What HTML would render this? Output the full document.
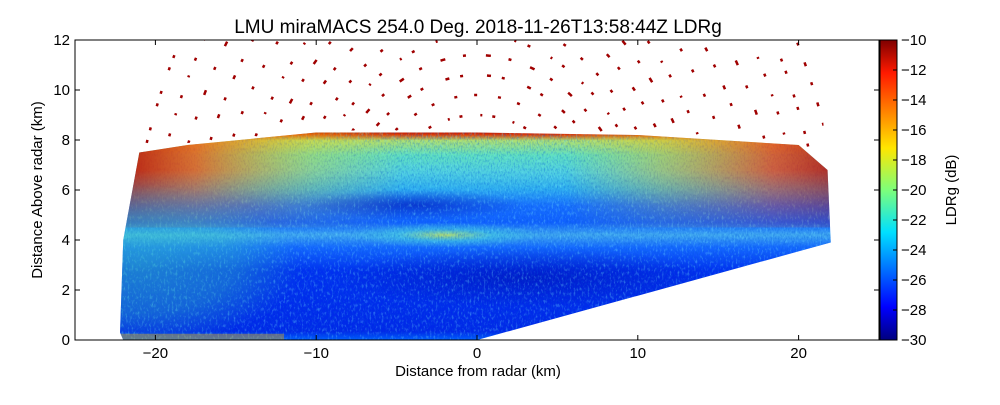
<!DOCTYPE html>
<html><head><meta charset="utf-8"><style>
body{margin:0;background:#fff;}
svg text{font-family:"Liberation Sans",sans-serif;}
</style></head><body>
<svg id="chart" width="1000" height="400" xmlns="http://www.w3.org/2000/svg">
<defs>
<linearGradient id="vg" x1="0" y1="1" x2="0" y2="0">
<stop offset="0" stop-color="#0060ff"/>
<stop offset="0.04" stop-color="#0028e8"/>
<stop offset="0.33" stop-color="#0030f0"/>
<stop offset="0.44" stop-color="#1468ff"/>
<stop offset="0.5" stop-color="#40a8f0"/>
<stop offset="0.56" stop-color="#1060ff"/>
<stop offset="0.64" stop-color="#1870ff"/>
<stop offset="0.72" stop-color="#30b0f0"/>
<stop offset="0.8" stop-color="#50d0e0"/>
<stop offset="0.88" stop-color="#60e0c0"/>
<stop offset="0.95" stop-color="#b0e070"/>
<stop offset="0.98" stop-color="#e03000"/>
<stop offset="1" stop-color="#900000"/>
</linearGradient>
<linearGradient id="edge" x1="0" y1="0" x2="1" y2="0">
<stop offset="0" stop-color="#b00000" stop-opacity="0.95"/>
<stop offset="0.12" stop-color="#ff5000" stop-opacity="0.75"/>
<stop offset="0.28" stop-color="#ffd000" stop-opacity="0.3"/>
<stop offset="0.4" stop-color="#ffd000" stop-opacity="0"/>
<stop offset="0.62" stop-color="#ffd000" stop-opacity="0"/>
<stop offset="0.75" stop-color="#ffb000" stop-opacity="0.4"/>
<stop offset="0.9" stop-color="#ff3000" stop-opacity="0.7"/>
<stop offset="1" stop-color="#b00000" stop-opacity="0.85"/>
</linearGradient>
<linearGradient id="edgefade" gradientUnits="userSpaceOnUse" x1="0" y1="240" x2="0" y2="170">
<stop offset="0" stop-color="#fff" stop-opacity="0"/>
<stop offset="1" stop-color="#fff" stop-opacity="1"/>
</linearGradient>
<mask id="edgemask"><rect x="0" y="0" width="1000" height="400" fill="url(#edgefade)"/></mask>
<radialGradient id="leftcy">
<stop offset="0" stop-color="#40e0b0" stop-opacity="0.45"/>
<stop offset="0.6" stop-color="#40e0b0" stop-opacity="0.3"/>
<stop offset="1" stop-color="#40e0b0" stop-opacity="0"/>
</radialGradient>
<radialGradient id="mid">
<stop offset="0" stop-color="#c0e060" stop-opacity="0.9"/>
<stop offset="0.5" stop-color="#40d0e0" stop-opacity="0.5"/>
<stop offset="1" stop-color="#40d0e0" stop-opacity="0"/>
</radialGradient>
<radialGradient id="dark">
<stop offset="0" stop-color="#0010b0" stop-opacity="0.6"/>
<stop offset="1" stop-color="#0010b0" stop-opacity="0"/>
</radialGradient>
<linearGradient id="cb" x1="0" y1="1" x2="0" y2="0">
<stop offset="0" stop-color="#00007f"/><stop offset="0.11" stop-color="#0000ff"/>
<stop offset="0.36" stop-color="#00e0ff"/><stop offset="0.5" stop-color="#7dff7a"/>
<stop offset="0.64" stop-color="#ffe600"/><stop offset="0.89" stop-color="#ff1a00"/>
<stop offset="1" stop-color="#7f0000"/>
</linearGradient>
<filter id="noise"><feTurbulence type="fractalNoise" baseFrequency="0.7 0.35" numOctaves="2" seed="3"/><feColorMatrix values="0 0 0 0 0  0 0 0 0 0.1  0 0 0 0 0.7  0 0 0 1.6 -0.7"/></filter>
<filter id="noise2"><feTurbulence type="fractalNoise" baseFrequency="0.5 0.25" numOctaves="2" seed="9"/><feColorMatrix values="0 0 0 0 0.2  0 0 0 0 0.9  0 0 0 0 1  0 0 0 1.8 -0.95"/></filter>
<clipPath id="region"><polygon id="regpoly"/></clipPath>
<clipPath id="above"><polygon id="abovepoly"/></clipPath>
<clipPath id="plotclip"><rect x="75" y="40" width="804" height="300"/></clipPath>
</defs>
<text x="478" y="33" font-size="19" text-anchor="middle">LMU miraMACS 254.0 Deg. 2018-11-26T13:58:44Z  LDRg</text>
<g id="plot" clip-path="url(#plotclip)"></g>
<rect x="75" y="40" width="804" height="300" fill="none" stroke="#000"/>
<g id="axes"></g>
<text x="478" y="376" font-size="15" text-anchor="middle">Distance from radar (km)</text>
<text transform="translate(42,190) rotate(-90)" font-size="15" text-anchor="middle">Distance Above radar  (km)</text>
<rect x="880" y="40" width="17" height="300" fill="url(#cb)" stroke="#000"/>
<g id="cbticks"></g>
<text transform="translate(956,190) rotate(-90)" font-size="15" text-anchor="middle">LDRg (dB)</text>
</svg>
<script>
const xTicks=[-20,-10,0,10,20];
const yTicks=[0,2,4,6,8,10,12];
const cbTicks=[-10,-12,-14,-16,-18,-20,-22,-24,-26,-28,-30];
const regionX=[-22.2,-22,0,22,21.8,20,10,0,-10,-18,-21,-22];
const regionY=[0.3,0,0,3.9,6.8,7.8,8.2,8.3,8.3,7.8,7.5,4];
const arcRadii=[9,9.8,10.6,11.4,12.2,13,14,15,16,17.2,18.4,19.6,20.8,22,23.2];
const NS="http://www.w3.org/2000/svg";
const X=v=>477+v*16.08, Y=v=>340-v*25, CY=v=>40+(-10-v)*15;
function mk(t,a,p){const e=document.createElementNS(NS,t);for(const k in a)e.setAttribute(k,a[k]);p.appendChild(e);return e;}
document.getElementById('regpoly').setAttribute('points',regionX.map((x,i)=>X(x)+','+Y(regionY[i])).join(' '));
const topIdx=[4,5,6,7,8,9,10];
document.getElementById('abovepoly').setAttribute('points',
  topIdx.map(i=>X(regionX[i])+','+(Y(regionY[i])-2)).concat([X(-19.5)+',30',X(21)+',30']).join(' '));
const plot=document.getElementById('plot');
const ga=mk('g',{'clip-path':'url(#above)'},plot);


arcRadii.forEach((r,i)=>{
  const a=mk('path',{d:`M${X(-r)},${Y(0)} A${r*16.08},${r*25} 0 0 1 ${X(r)},${Y(0)}`,fill:'none',stroke:'#a00000','stroke-width':2.5,'stroke-dasharray':(2+i%4)+' '+(10+(i*7)%13)+' '+(3)+' '+(18+(i*3)%7),'stroke-dashoffset':i*11},ga);
  
  
});
const g=mk('g',{'clip-path':'url(#region)'},plot);


const rx=X(-23), rw=X(23)-X(-23), ry=Y(8.4), rh=Y(0)-Y(8.4);
mk('rect',{x:rx,y:ry,width:rw,height:rh,fill:'url(#vg)'},g);
mk('ellipse',{cx:X(-2),cy:Y(4.2),rx:X(6)-X(0),ry:Y(0)-Y(0.5),fill:'url(#mid)'},g);
mk('ellipse',{cx:X(-4),cy:Y(5.4),rx:X(7)-X(0),ry:Y(0)-Y(0.6),fill:'url(#dark)'},g);
mk('ellipse',{cx:X(3),cy:Y(2.5),rx:X(12)-X(0),ry:Y(0)-Y(1.2),fill:'url(#dark)'},g);
mk('rect',{x:rx,y:ry,width:rw,height:rh,filter:'url(#noise)',opacity:0.6},g);
mk('rect',{x:rx,y:ry,width:rw,height:rh,filter:'url(#noise2)',opacity:0.6},g);
mk('rect',{x:rx,y:Y(8.4),width:rw,height:Y(4.5)-Y(8.4),fill:'url(#edge)',mask:'url(#edgemask)'},g);
mk('ellipse',{cx:X(-21),cy:Y(3),rx:X(10)-X(0),ry:Y(0)-Y(3.2),fill:'url(#leftcy)'},g);
mk('rect',{x:X(-22.2),y:Y(0.25),width:X(-12)-X(-22.2),height:Y(0)-Y(0.25),fill:'#f0b000',opacity:0.4},g);
const ax=document.getElementById('axes');
xTicks.forEach(v=>{
  mk('line',{x1:X(v),x2:X(v),y1:340,y2:335,stroke:'#000'},ax);
  mk('line',{x1:X(v),x2:X(v),y1:40,y2:45,stroke:'#000'},ax);
  const t=mk('text',{x:X(v),y:358,'font-size':15,'text-anchor':'middle'},ax);t.textContent=v<0?'\u2212'+(-v):v;
  
  
});
yTicks.forEach(v=>{
  mk('line',{x1:75,x2:80,y1:Y(v),y2:Y(v),stroke:'#000'},ax);
  mk('line',{x1:879,x2:874,y1:Y(v),y2:Y(v),stroke:'#000'},ax);
  const t=mk('text',{x:70,y:Y(v)+5,'font-size':15,'text-anchor':'end'},ax);t.textContent=v;
  
  
});
const cbt=document.getElementById('cbticks');
cbTicks.forEach(v=>{
  mk('line',{x1:893,x2:897,y1:CY(v),y2:CY(v),stroke:'#000'},cbt);
  const t=mk('text',{x:901,y:CY(v)+5,'font-size':15},cbt);t.textContent='\u2212'+(-v);
  
  
});
</script>
</body></html>
